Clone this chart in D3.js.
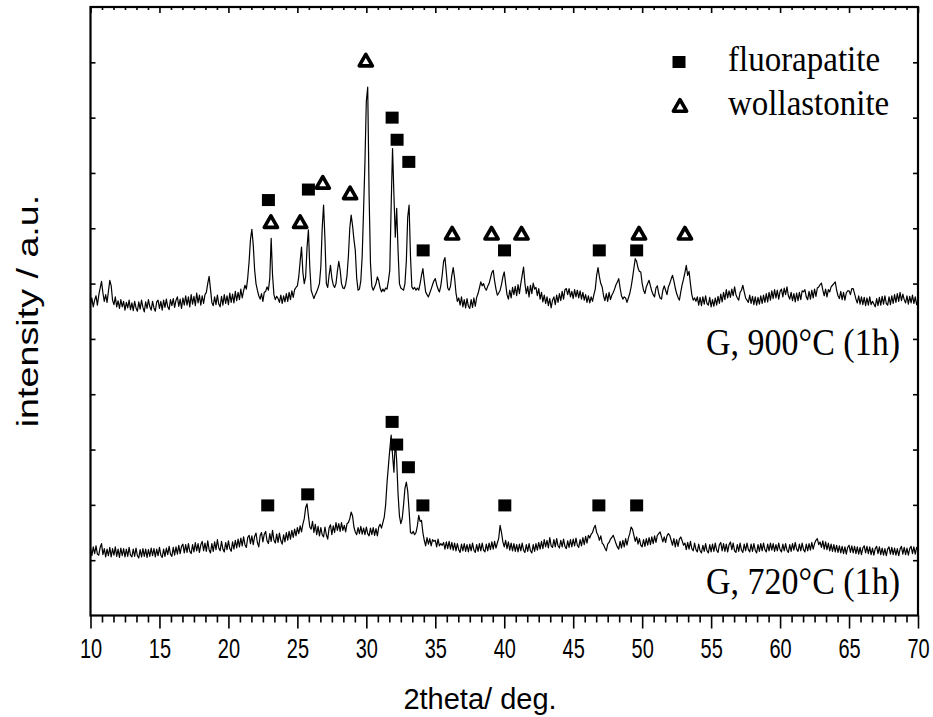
<!DOCTYPE html>
<html>
<head>
<meta charset="utf-8">
<script src="https://cdn.jsdelivr.net/npm/d3@7"></script>
<style>
  html, body { margin: 0; padding: 0; background: #fff; }
  svg { display: block; }
</style>
</head>
<body>
<svg id="chart" width="933" height="717"></svg>
<script>
// Scan grid: 2theta from 10 to 70 deg in 0.1 deg steps
const scanStart = 10;
const scanStep = 0.1;

// Intensity (a.u.) of glass G heat-treated at 900 °C for 1 h, offset upward
const glass900 = [
  562,574,558,570,578,561,579,592,604,583,
  568,580,566,586,606,596,570,562,576,558,
  569,555,571,558,568,552,566,556,570,553,
  565,551,568,556,550,567,554,570,557,549,
  567,555,571,558,552,568,556,550,567,570,
  555,568,552,570,557,572,558,553,571,560,
  573,557,570,576,559,572,555,574,561,578,
  561,576,558,580,563,577,560,583,565,579,
  561,578,564,580,584,600,613,590,566,560,
  576,562,579,563,558,577,561,580,564,578,
  562,583,566,581,565,586,569,584,571,590,
  574,587,597,590,610,640,680,698,670,625,
  600,588,578,572,582,568,584,586,594,588,
  610,682,615,580,571,577,573,566,579,564,
  578,567,582,568,584,571,587,575,589,593,
  596,612,640,666,620,600,612,665,697,630,
  588,580,573,580,585,592,600,630,700,742,
  680,600,593,615,633,610,598,593,600,622,
  640,625,600,592,591,598,615,650,700,724,
  705,680,660,610,588,590,605,650,733,820,
  930,955,760,637,595,588,594,600,612,605,
  592,585,590,586,592,590,605,624,740,844,
  760,684,736,660,600,592,590,588,600,640,
  720,742,650,594,590,593,588,592,588,600,
  615,627,605,585,580,576,583,590,598,605,
  609,598,590,585,596,615,640,647,620,592,
  588,595,615,629,610,583,568,574,561,576,
  558,571,556,573,559,555,571,557,574,559,
  575,582,592,603,596,600,592,588,595,600,
  610,620,624,605,590,579,583,588,598,612,
  621,600,580,572,588,574,593,580,595,578,
  598,582,600,615,630,600,582,595,576,597,
  582,601,590,593,578,591,572,584,567,579,
  564,576,560,573,556,570,576,562,579,566,
  582,569,586,572,589,591,580,591,576,586,
  573,589,576,588,574,587,572,584,570,580,
  566,578,565,576,568,580,590,615,629,612,
  600,594,578,569,582,568,584,571,579,584,
  590,598,603,609,592,578,572,576,574,566,
  574,582,594,610,628,645,640,628,622,621,
  600,588,582,594,600,606,596,586,580,576,
  592,596,582,574,572,588,596,588,580,594,
  600,608,615,605,592,582,575,570,585,598,
  608,620,633,615,622,600,580,570,574,568,
  576,561,575,560,576,563,578,564,561,575,
  558,571,559,574,561,577,564,581,567,584,
  571,589,574,587,575,590,578,594,580,574,
  570,584,588,597,585,574,570,566,579,564,
  577,562,576,561,575,563,578,564,579,566,
  582,567,584,570,587,573,589,574,588,572,
  586,590,576,592,580,594,578,572,584,569,
  582,567,583,569,584,571,587,585,589,576,
  571,586,572,588,574,590,577,592,594,598,
  601,588,578,590,576,589,585,594,597,600,
  603,588,578,573,586,571,584,570,583,587,
  587,580,591,591,582,572,565,578,563,576,
  562,575,560,574,561,576,562,568,563,558,
  573,560,575,561,577,563,578,564,561,576,
  562,578,564,580,566,582,568,584,569,581,
  571,565,578,563,577,565,579,564,576,562,
  571
];

// Intensity (a.u.) of glass G heat-treated at 720 °C for 1 h
const glass720 = [
  122,108,124,112,126,111,109,123,130,110,
  121,106,120,108,123,106,121,109,124,107,
  120,105,122,108,121,106,120,107,123,109,
  106,120,107,122,108,104,119,106,121,107,
  120,105,119,107,122,108,121,106,120,108,
  123,109,105,120,107,122,110,125,111,107,
  123,109,124,111,127,112,125,129,113,128,
  114,130,116,112,128,115,132,117,130,114,
  128,134,117,131,116,135,119,113,130,116,
  133,119,137,122,117,134,120,115,132,119,
  135,121,116,133,120,136,122,138,124,140,
  126,142,128,123,141,145,130,144,128,143,
  149,132,124,144,150,133,147,152,135,130,
  148,134,154,136,131,147,132,149,135,129,
  146,133,150,136,152,138,154,141,156,144,
  159,148,162,151,165,175,195,202,180,160,
  156,170,150,165,146,161,144,159,146,142,
  160,146,138,158,164,146,162,150,168,154,
  166,152,168,154,163,151,166,168,175,187,
  180,160,151,146,159,148,161,147,158,146,
  160,148,144,158,146,159,145,157,144,160,
  165,158,168,178,200,240,270,300,326,290,
  259,317,280,220,180,166,175,200,230,241,
  225,190,150,148,152,146,150,162,181,170,
  172,150,136,126,141,129,139,126,137,134,
  136,124,138,126,130,127,132,120,133,121,
  134,120,132,118,131,117,130,119,114,129,
  117,130,116,128,115,129,117,131,118,114,
  128,116,130,117,131,118,115,129,117,131,
  119,133,120,134,122,131,140,163,150,133,
  124,136,121,133,118,131,117,130,116,128,
  115,129,117,131,118,114,128,116,130,117,
  113,128,116,130,118,132,120,134,121,137,
  124,136,122,141,126,123,137,124,139,126,
  122,136,124,138,125,121,135,123,137,124,
  138,126,140,127,123,137,126,141,128,143,
  131,145,140,147,150,158,163,150,145,136,
  144,131,128,122,117,129,132,138,141,145,
  138,130,124,120,134,122,136,124,139,127,
  140,148,160,156,145,134,142,129,139,127,
  124,137,125,139,127,141,128,142,130,144,
  132,145,148,151,142,133,142,132,144,148,
  145,136,127,139,124,137,125,138,142,135,
  127,131,119,132,120,134,121,117,131,119,
  115,129,117,113,127,116,130,117,113,128,
  115,129,116,131,118,114,128,132,117,130,
  116,129,115,128,133,119,131,117,114,128,
  116,131,118,114,129,117,131,119,115,129,
  116,130,118,113,128,116,130,117,131,119,
  115,129,117,131,118,130,116,128,117,131,
  119,115,129,117,130,118,114,128,116,130,
  118,132,120,116,129,117,131,119,115,129,
  117,130,118,132,120,130,136,139,128,133,
  123,135,120,133,119,131,117,129,116,128,
  115,127,114,126,113,125,112,124,111,123,
  127,114,126,113,125,112,124,111,123,110,
  122,126,113,125,112,124,110,122,109,121,
  125,112,124,110,122,109,121,108,120,124,
  111,123,110,122,109,121,108,120,125,111,
  123,110,122,109,121,125,112,124,111,123,
  117
];

// Phase markers: [2theta, marker height]
const fluorapatite900 = [[22.9,751],[25.8,770],[31.87,900],[32.23,860],[33.08,820],[34.12,660],[40.02,660],[46.89,660],[49.6,660]];
const wollastonite900 = [[23.08,711],[25.2,711],[26.84,782],[28.82,763],[29.96,1003],[36.22,690],[39.08,690],[41.25,690],[49.77,690],[53.1,690]];
const fluorapatite720 = [[22.85,199],[25.75,219],[31.87,350],[32.2,309],[33.05,268],[34.1,199],[40.04,199],[46.86,199],[49.6,199]];

// Axis ticks
const xMajorTicks = [10,15,20,25,30,35,40,45,50,55,60,65,70];
const xMinorPerMajor = 5;
const yMajorTicks = [1,2,3,4,5,6,7,8,9,10];

// Labels
const legendLabels = ["fluorapatite", "wollastonite"];
const curveLabels = ["G, 900°C (1h)", "G, 720°C (1h)"];
const xTitle = "2theta/ deg.";
const yTitle = "intensity / a.u.";

const svg = d3.select("#chart");
const plot = { left: 90.5, right: 918, top: 7, bottom: 615.5 };

const x = d3.scaleLinear().domain([10, 70]).range([plot.left, plot.right]);
const y = d3.scaleLinear().domain([0, 1100]).range([plot.bottom, plot.top]);

const sans = "'Liberation Sans', Arial, Helvetica, sans-serif";
const serif = "'Liberation Serif', 'Times New Roman', Times, serif";

// minor tick positions: five minors between consecutive majors
const xMinorTicks = [];
for (let i = 0; i < xMajorTicks.length - 1; i++) {
  const a = xMajorTicks[i], b = xMajorTicks[i + 1];
  for (let k = 1; k <= xMinorPerMajor; k++) xMinorTicks.push(a + (b - a) * k / (xMinorPerMajor + 1));
}

function styleAxis(g) {
  g.select(".domain").remove();
  g.selectAll(".tick line").attr("stroke", "#000").attr("stroke-width", 1.6);
}

// bottom axis: outward ticks with labels
const bottomMajor = svg.append("g")
  .attr("transform", `translate(0,${plot.bottom})`)
  .call(d3.axisBottom(x).tickValues(xMajorTicks).tickSize(13).tickFormat(d3.format("d")))
  .call(styleAxis);
bottomMajor.selectAll(".tick text")
  .attr("y", 0).attr("dy", null)
  .attr("fill", "#000")
  .attr("font-family", sans)
  .attr("font-size", 20)
  .attr("text-anchor", "middle")
  .attr("transform", "translate(0,42) scale(1,1.35)");

svg.append("g")
  .attr("transform", `translate(0,${plot.bottom})`)
  .call(d3.axisBottom(x).tickValues(xMinorTicks).tickSize(7).tickFormat(""))
  .call(styleAxis);

// top axis: inward ticks, no labels
svg.append("g")
  .attr("transform", `translate(0,${plot.top})`)
  .call(d3.axisTop(x).tickValues(xMajorTicks).tickSize(-6).tickFormat(""))
  .call(styleAxis);
svg.append("g")
  .attr("transform", `translate(0,${plot.top})`)
  .call(d3.axisTop(x).tickValues(xMinorTicks).tickSize(-3).tickFormat(""))
  .call(styleAxis);

// left and right axes: inward ticks, no labels
const yTickVals = yMajorTicks.map(v => v * 100);
svg.append("g")
  .attr("transform", `translate(${plot.left},0)`)
  .call(d3.axisLeft(y).tickValues(yTickVals).tickSize(-5).tickFormat(""))
  .call(styleAxis);
svg.append("g")
  .attr("transform", `translate(${plot.right},0)`)
  .call(d3.axisRight(y).tickValues(yTickVals).tickSize(-5).tickFormat(""))
  .call(styleAxis);

// frame
svg.append("rect")
  .attr("x", plot.left).attr("y", plot.top)
  .attr("width", plot.right - plot.left).attr("height", plot.bottom - plot.top)
  .attr("fill", "none").attr("stroke", "#000").attr("stroke-width", 2.2);

// diffraction patterns
const line = d3.line()
  .x((d, i) => x(scanStart + i * scanStep))
  .y(d => y(d));

[glass900, glass720].forEach(series => {
  svg.append("path")
    .datum(series)
    .attr("d", line)
    .attr("fill", "none")
    .attr("stroke", "#000")
    .attr("stroke-width", 1.2)
    .attr("stroke-linejoin", "round");
});

// marker shapes
const squareSize = { w: 13, h: 12 };
const triPath = "M0,-6.3L6.6,5.2L-6.6,5.2Z";

function drawSquares(data) {
  svg.append("g").selectAll("rect")
    .data(data).join("rect")
    .attr("x", d => x(d[0]) - squareSize.w / 2)
    .attr("y", d => y(d[1]) - squareSize.h / 2)
    .attr("width", squareSize.w).attr("height", squareSize.h)
    .attr("fill", "#000");
}
function drawTriangles(data) {
  svg.append("g").selectAll("path")
    .data(data).join("path")
    .attr("d", triPath)
    .attr("transform", d => `translate(${x(d[0])},${y(d[1])})`)
    .attr("fill", "#fff").attr("stroke", "#000")
    .attr("stroke-width", 3.6).attr("stroke-linejoin", "round");
}
drawSquares(fluorapatite900);
drawTriangles(wollastonite900);
drawSquares(fluorapatite720);

// legend
const legend = svg.append("g");
legend.append("rect")
  .attr("x", 679 - squareSize.w / 2).attr("y", 62 - squareSize.h / 2)
  .attr("width", squareSize.w).attr("height", squareSize.h).attr("fill", "#000");
legend.append("path")
  .attr("d", triPath).attr("transform", "translate(680,106)")
  .attr("fill", "#fff").attr("stroke", "#000")
  .attr("stroke-width", 3.6).attr("stroke-linejoin", "round");
legend.selectAll("text")
  .data(legendLabels).join("text")
  .attr("transform", (d, i) => `translate(728,${71 + i * 44}) scale(1,1.1)`)
  .attr("font-family", serif).attr("font-size", 33)
  .attr("fill", "#000")
  .text(d => d);

// curve labels
svg.selectAll("text.curve")
  .data(curveLabels).join("text")
  .attr("class", "curve")
  .attr("transform", (d, i) => `translate(900,${[355, 594][i]}) scale(1,1.1)`)
  .attr("text-anchor", "end")
  .attr("font-family", serif).attr("font-size", 34)
  .attr("fill", "#000")
  .text(d => d);

// axis titles
svg.append("text")
  .attr("transform", "translate(480,709)")
  .attr("text-anchor", "middle")
  .attr("font-family", sans).attr("font-size", 29)
  .attr("fill", "#000")
  .text(xTitle);

svg.append("text")
  .attr("transform", "translate(38,311) rotate(-90) scale(1.3,1)")
  .attr("text-anchor", "middle")
  .attr("font-family", sans).attr("font-size", 29)
  .attr("fill", "#000")
  .text(yTitle);
</script>
</body>
</html>
